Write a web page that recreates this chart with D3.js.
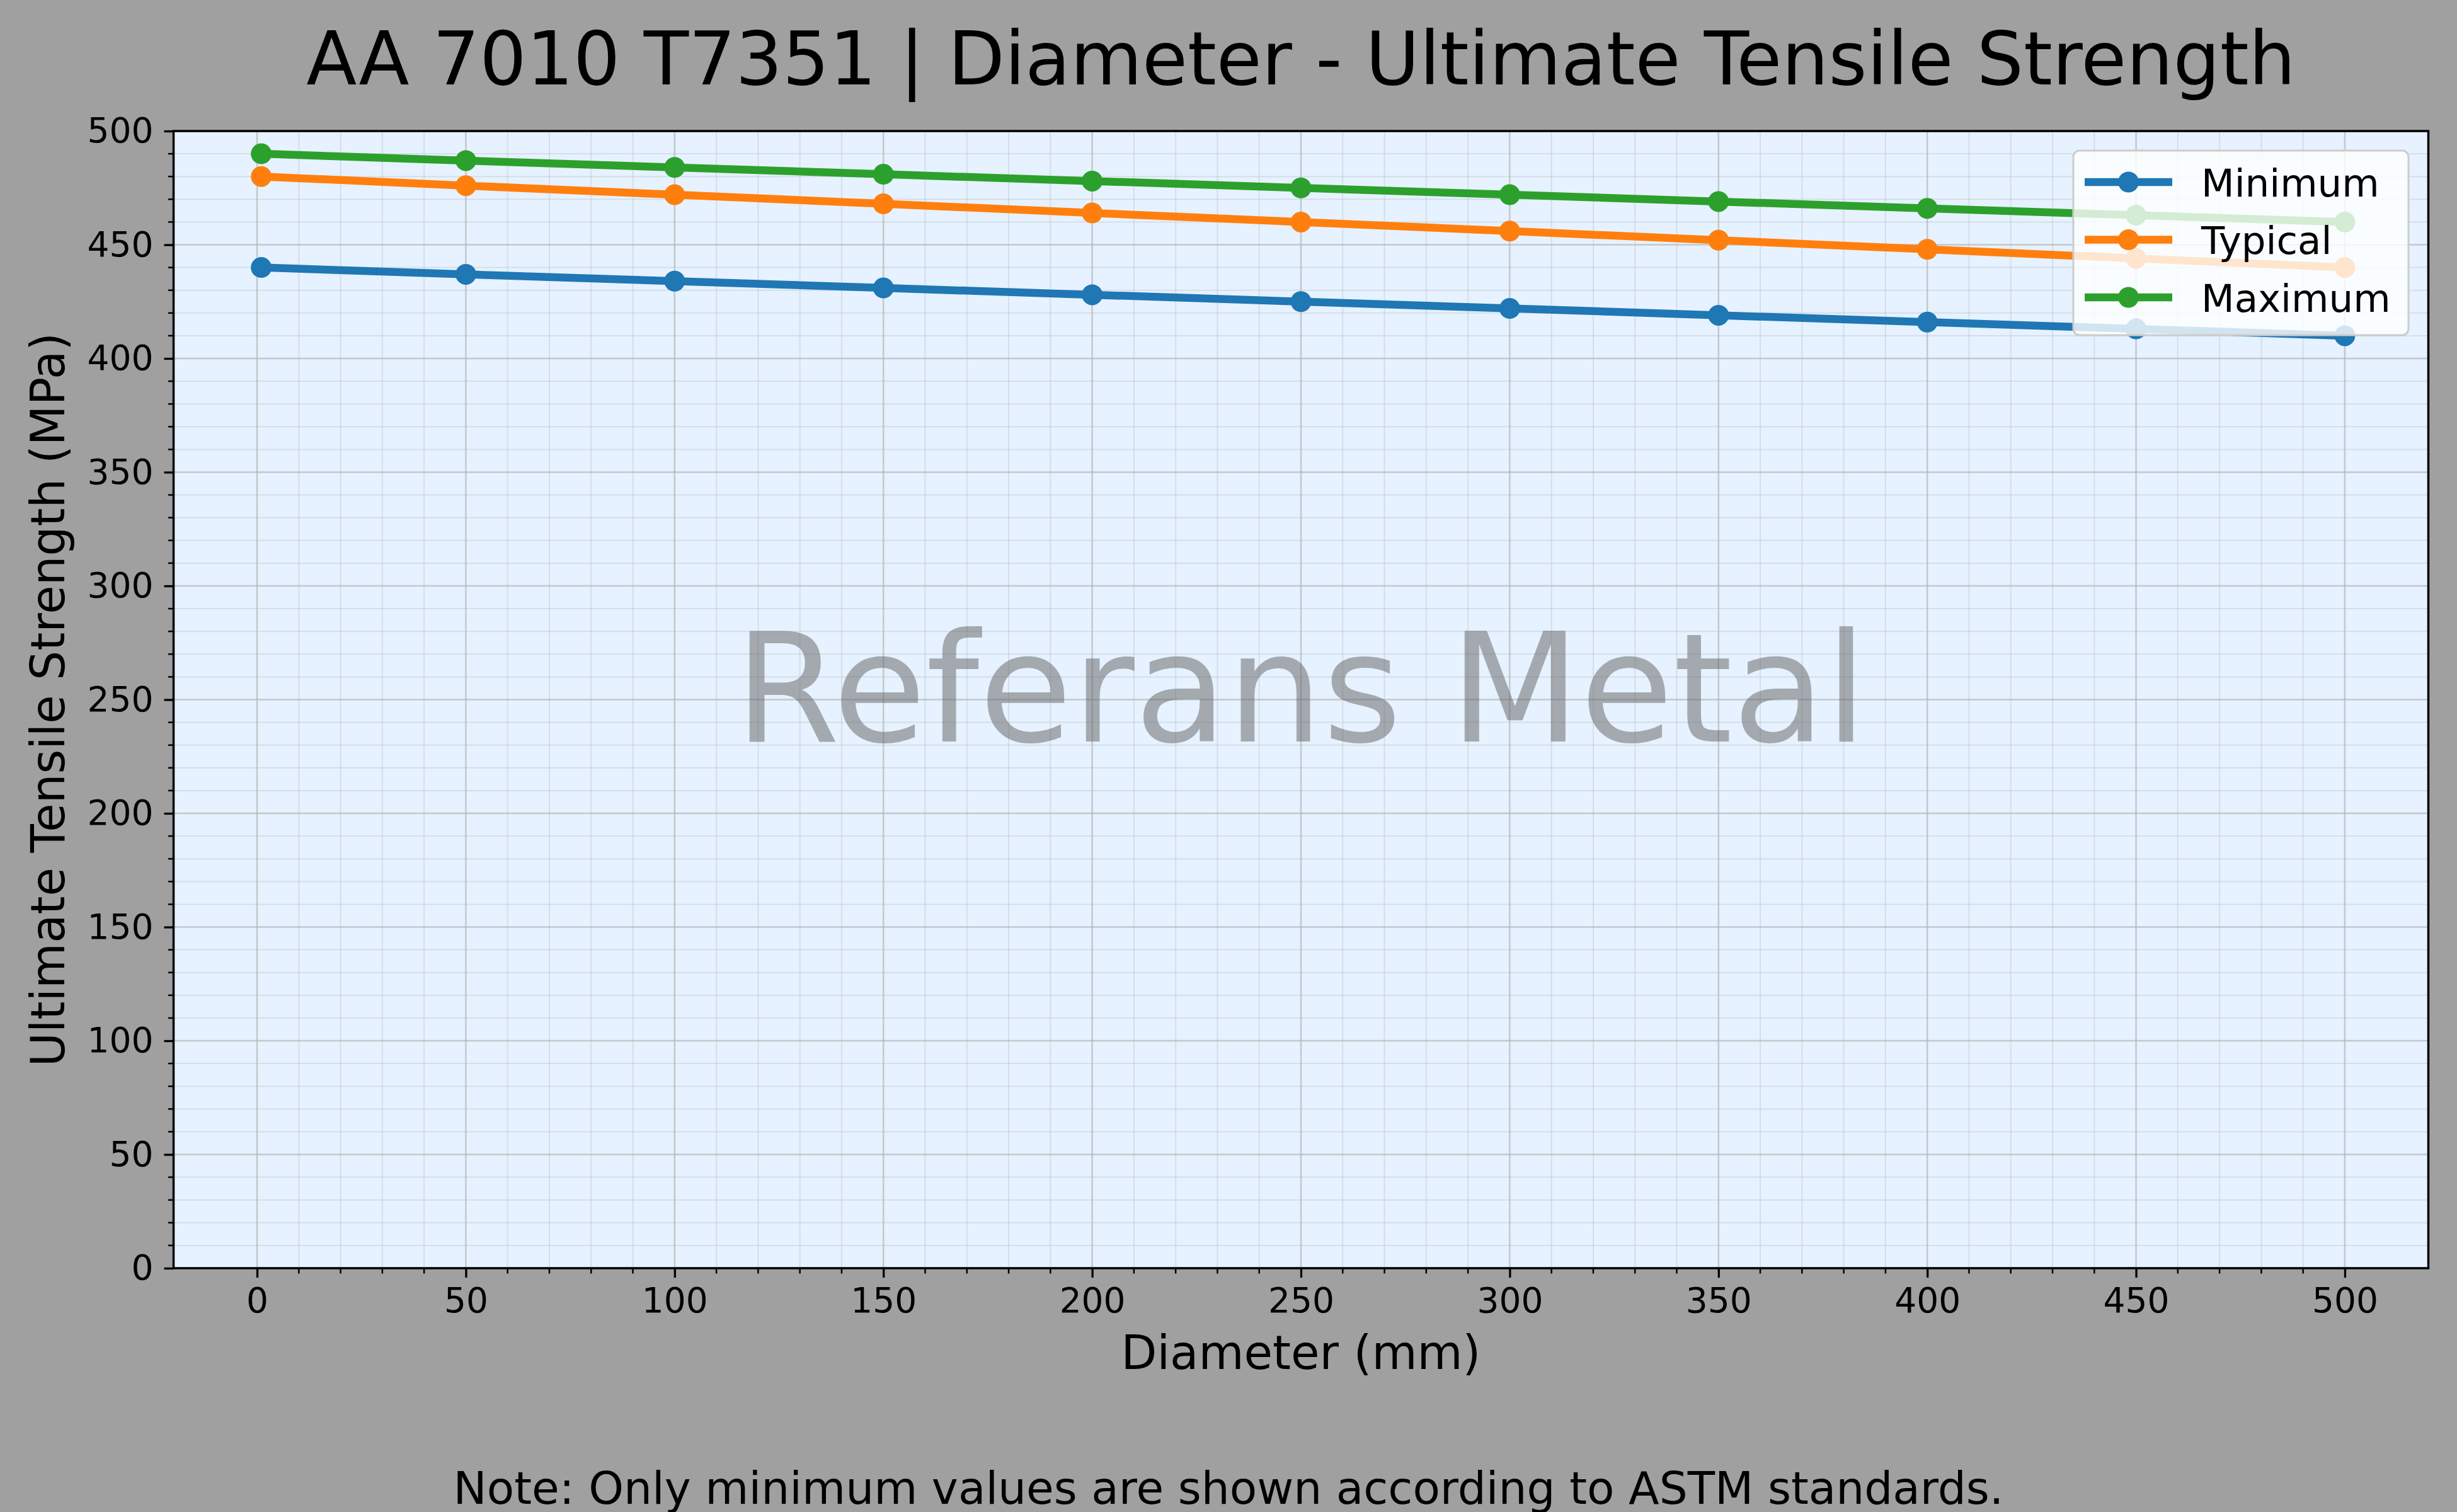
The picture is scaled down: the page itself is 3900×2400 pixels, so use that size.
<!DOCTYPE html>
<html>
<head>
<meta charset="utf-8">
<script src="https://cdn.jsdelivr.net/npm/d3@7"></script>
<style>
  body { margin: 0; background: #a0a0a0; }
  svg { display: block; font-family: 'DejaVu Sans', sans-serif; }
</style>
</head>
<body>
<svg id="chart" width="3900" height="2400"></svg>
<script>
// values
const diameters = [1, 50, 100, 150, 200, 250, 300, 350, 400, 450, 500];
const minimumValues = [440, 437, 434, 431, 428, 425, 422, 419, 416, 413, 410];
const typicalValues = [480, 476, 472, 468, 464, 460, 456, 452, 448, 444, 440];
const maximumValues = [490, 487, 484, 481, 478, 475, 472, 469, 466, 463, 460];
const seriesNames = ['Minimum', 'Typical', 'Maximum'];
const seriesColors = ['#1f77b4', '#ff7f0e', '#2ca02c'];
const xTicks = [0, 50, 100, 150, 200, 250, 300, 350, 400, 450, 500];
const yTicks = [0, 50, 100, 150, 200, 250, 300, 350, 400, 450, 500];

const titleText = 'AA 7010 T7351 | Diameter - Ultimate Tensile Strength';
const xLabel = 'Diameter (mm)';
const yLabel = 'Ultimate Tensile Strength (MPa)';
const noteText = 'Note: Only minimum values are shown according to ASTM standards.';
const watermark = 'Referans Metal';

const drawChart = () => {
  const svg = d3.select('#chart');
  svg.selectAll('*').remove();

  const width = 3900;
  const height = 2400;
  const margin = { top: 208, right: 45.5, bottom: 387, left: 275.5 };
  const plotW = width - margin.left - margin.right;
  const plotH = height - margin.top - margin.bottom;

  const series = [minimumValues, typicalValues, maximumValues].map((values, i) => ({
    name: seriesNames[i],
    color: seriesColors[i],
    points: values.map((v, j) => ({ x: diameters[j], y: v })),
  }));

  const xScale = d3.scaleLinear().domain([-20, 520]).range([margin.left, width - margin.right]);
  const yScale = d3.scaleLinear().domain([0, 500]).range([height - margin.bottom, margin.top]);
  const minorX = d3.range(0, 501, 10).filter((d) => d % 50 !== 0);
  const minorY = d3.range(0, 501, 10).filter((d) => d % 50 !== 0);

  svg.append('rect').attr('width', width).attr('height', height).attr('fill', '#a0a0a0');

  svg
    .append('rect')
    .attr('x', margin.left)
    .attr('y', margin.top)
    .attr('width', plotW)
    .attr('height', plotH)
    .attr('fill', '#e6f2ff');

  // grid: minor first, then major
  const grid = svg.append('g');
  grid
    .selectAll('.minor-x')
    .data(minorX)
    .enter()
    .append('line')
    .attr('x1', (d) => xScale(d))
    .attr('x2', (d) => xScale(d))
    .attr('y1', margin.top)
    .attr('y2', height - margin.bottom)
    .attr('stroke', '#b0b0b0')
    .attr('stroke-opacity', 0.3)
    .attr('stroke-width', 2);
  grid
    .selectAll('.minor-y')
    .data(minorY)
    .enter()
    .append('line')
    .attr('x1', margin.left)
    .attr('x2', width - margin.right)
    .attr('y1', (d) => yScale(d))
    .attr('y2', (d) => yScale(d))
    .attr('stroke', '#b0b0b0')
    .attr('stroke-opacity', 0.3)
    .attr('stroke-width', 2);
  grid
    .selectAll('.major-x')
    .data(xTicks)
    .enter()
    .append('line')
    .attr('x1', (d) => xScale(d))
    .attr('x2', (d) => xScale(d))
    .attr('y1', margin.top)
    .attr('y2', height - margin.bottom)
    .attr('stroke', '#b0b0b0')
    .attr('stroke-opacity', 0.65)
    .attr('stroke-width', 2.5);
  grid
    .selectAll('.major-y')
    .data(yTicks)
    .enter()
    .append('line')
    .attr('x1', margin.left)
    .attr('x2', width - margin.right)
    .attr('y1', (d) => yScale(d))
    .attr('y2', (d) => yScale(d))
    .attr('stroke', '#b0b0b0')
    .attr('stroke-opacity', 0.65)
    .attr('stroke-width', 2.5);

  svg
    .append('text')
    .attr('x', margin.left + plotW / 2)
    .attr('y', 1177)
    .attr('text-anchor', 'middle')
    .attr('font-size', 240)
    .attr('fill', '#606060')
    .attr('fill-opacity', 0.5)
    .text(watermark);

  const line = d3
    .line()
    .x((d) => xScale(d.x))
    .y((d) => yScale(d.y));

  series.forEach((s) => {
    const g = svg.append('g');
    g.append('path')
      .datum(s.points)
      .attr('fill', 'none')
      .attr('stroke', s.color)
      .attr('stroke-width', 12.5)
      .attr('stroke-linejoin', 'round')
      .attr('d', line);
    g.selectAll('circle')
      .data(s.points)
      .enter()
      .append('circle')
      .attr('cx', (d) => xScale(d.x))
      .attr('cy', (d) => yScale(d.y))
      .attr('r', 16.5)
      .attr('fill', s.color);
  });

  // axes
  const xAxis = svg
    .append('g')
    .attr('transform', `translate(0,${height - margin.bottom})`)
    .call(d3.axisBottom(xScale).tickValues(xTicks).tickSize(15).tickPadding(16));
  const yAxis = svg
    .append('g')
    .attr('transform', `translate(${margin.left},0)`)
    .call(d3.axisLeft(yScale).tickValues(yTicks).tickSize(15).tickPadding(17));
  [xAxis, yAxis].forEach((a) => {
    a.select('.domain').remove();
    a.selectAll('line').attr('stroke', '#000').attr('stroke-width', 3.3);
    a.selectAll('text').attr('font-size', 55).attr('font-family', 'DejaVu Sans').attr('fill', '#000');
  });

  svg
    .append('g')
    .selectAll('line')
    .data(minorX)
    .enter()
    .append('line')
    .attr('x1', (d) => xScale(d))
    .attr('x2', (d) => xScale(d))
    .attr('y1', height - margin.bottom)
    .attr('y2', height - margin.bottom + 8.5)
    .attr('stroke', '#000')
    .attr('stroke-width', 2.5);
  svg
    .append('g')
    .selectAll('line')
    .data(minorY)
    .enter()
    .append('line')
    .attr('x1', margin.left - 8.5)
    .attr('x2', margin.left)
    .attr('y1', (d) => yScale(d))
    .attr('y2', (d) => yScale(d))
    .attr('stroke', '#000')
    .attr('stroke-width', 2.5);

  svg
    .append('rect')
    .attr('x', margin.left)
    .attr('y', margin.top)
    .attr('width', plotW)
    .attr('height', plotH)
    .attr('fill', 'none')
    .attr('stroke', '#000')
    .attr('stroke-width', 3.5);

  // legend
  const legend = svg.append('g');
  legend
    .append('rect')
    .attr('x', 3291)
    .attr('y', 239)
    .attr('width', 532)
    .attr('height', 293)
    .attr('rx', 10)
    .attr('fill', '#ffffff')
    .attr('fill-opacity', 0.8)
    .attr('stroke', '#cccccc')
    .attr('stroke-width', 3);
  series.forEach((s, i) => {
    const rowY = 289 + i * 91.5;
    legend
      .append('line')
      .attr('x1', 3309)
      .attr('x2', 3448)
      .attr('y1', rowY)
      .attr('y2', rowY)
      .attr('stroke', s.color)
      .attr('stroke-width', 12.5);
    legend
      .append('circle')
      .attr('cx', 3378.5)
      .attr('cy', rowY)
      .attr('r', 16.5)
      .attr('fill', s.color);
    legend
      .append('text')
      .attr('x', 3494)
      .attr('y', rowY)
      .attr('dy', '0.37em')
      .attr('font-size', 61)
      .attr('fill', '#000')
      .text(s.name);
  });

  // titles and labels
  svg
    .append('text')
    .attr('x', margin.left + plotW / 2)
    .attr('y', 134)
    .attr('text-anchor', 'middle')
    .attr('font-size', 117)
    .text(titleText);

  svg
    .append('text')
    .attr('x', margin.left + plotW / 2)
    .attr('y', 2173)
    .attr('text-anchor', 'middle')
    .attr('font-size', 74)
    .text(xLabel);

  svg
    .append('text')
    .attr('transform', `translate(102,${margin.top + plotH / 2}) rotate(-90)`)
    .attr('text-anchor', 'middle')
    .attr('font-size', 74)
    .text(yLabel);

  // the reference crops this note at the bottom edge as well
  svg
    .append('text')
    .attr('x', width / 2)
    .attr('y', 2387)
    .attr('text-anchor', 'middle')
    .attr('font-size', 71)
    .text(noteText);
};

drawChart();
</script>
</body>
</html>
